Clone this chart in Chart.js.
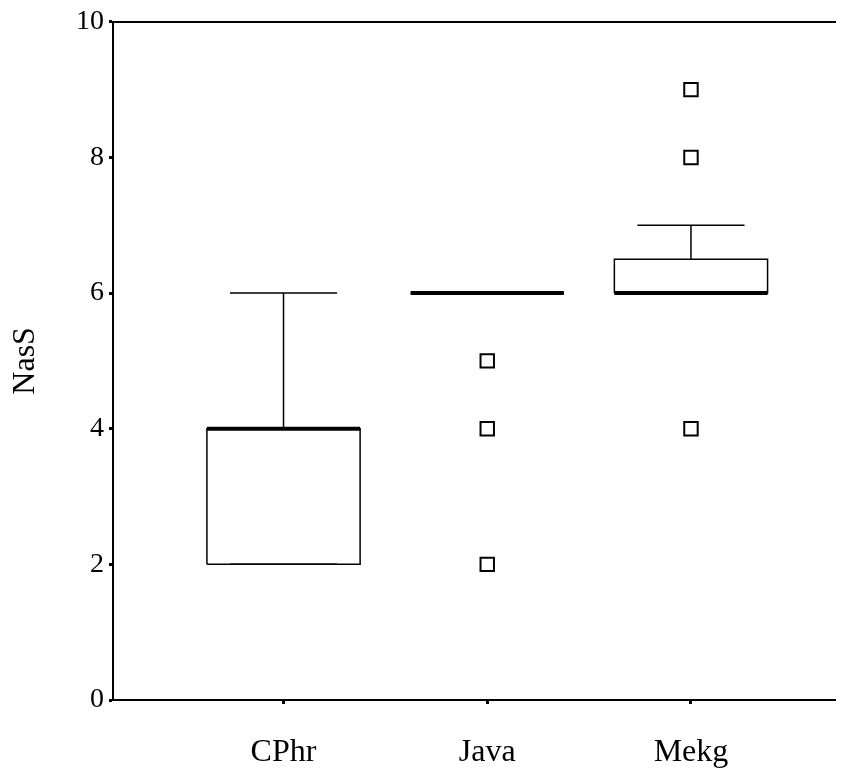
<!DOCTYPE html>
<html>
<head>
<meta charset="utf-8">
<script src="https://cdn.jsdelivr.net/npm/chart.js@4/dist/chart.umd.min.js"></script>
<style>
  body { margin: 0; background: #fff; }
  #wrap { width: 852px; height: 771px; }
</style>
</head>
<body>
<div id="wrap"><canvas id="grafikBox"></canvas></div>
<script>
// data boxplot NasS per kelompok
const categories = ['CPhr', 'Java', 'Mekg'];
const q1 = [2, 6, 6];
const median = [4, 6, 6];
const q3 = [4, 6, 6.5];
const whiskerLow = [2, 6, 6];
const whiskerHigh = [6, 6, 7];
const outliers = [[], [5, 4, 2], [9, 8, 4]];
const yTicks = [0, 2, 4, 6, 8, 10];

const boxHalf = 0.376;
const capHalf = 0.263;
const serif = '"Liberation Serif", "Times New Roman", serif';

// susun titik garis (null = putus)
const boxPts = [], medPts = [], whiskPts = [], outPts = [];
categories.forEach((c, i) => {
    const x = i + 1;
    boxPts.push({x: x - boxHalf, y: q1[i]}, {x: x + boxHalf, y: q1[i]},
                {x: x + boxHalf, y: q3[i]}, {x: x - boxHalf, y: q3[i]},
                {x: x - boxHalf, y: q1[i]}, {x: x, y: null});
    medPts.push({x: x - boxHalf, y: median[i]}, {x: x + boxHalf, y: median[i]}, {x: x, y: null});
    whiskPts.push({x: x, y: q3[i]}, {x: x, y: whiskerHigh[i]}, {x: x, y: null},
                  {x: x - capHalf, y: whiskerHigh[i]}, {x: x + capHalf, y: whiskerHigh[i]}, {x: x, y: null},
                  {x: x, y: q1[i]}, {x: x, y: whiskerLow[i]}, {x: x, y: null},
                  {x: x - capHalf, y: whiskerLow[i]}, {x: x + capHalf, y: whiskerLow[i]}, {x: x, y: null});
    outliers[i].forEach(v => outPts.push({x: x, y: v}));
});

const lineSet = (data, width) => ({
    type: 'line', data: data, showLine: true, spanGaps: false,
    borderColor: '#000', borderWidth: width, pointRadius: 0, fill: false, tension: 0
});

const config = {
    type: 'scatter',
    data: {
        datasets: [
            lineSet(whiskPts, 1.5),
            lineSet(boxPts, 1.5),
            lineSet(medPts, 4),
            {
                data: outPts,
                pointStyle: 'rect',
                pointRadius: 9.5,
                pointBackgroundColor: '#fff',
                pointBorderColor: '#000',
                pointBorderWidth: 2
            }
        ]
    },
    options: {
        responsive: true,
        maintainAspectRatio: false,
        animation: false,
        layout: { padding: { top: 18, right: 17, left: 0, bottom: 0 } },
        plugins: { legend: { display: false }, tooltip: { enabled: false } },
        scales: {
            x: {
                type: 'linear',
                min: 0.163,
                max: 3.707,
                afterFit: s => { s.height = 71; },
                afterBuildTicks: s => { s.ticks = categories.map((c, i) => ({value: i + 1})); },
                ticks: {
                    callback: v => categories[v - 1],
                    color: '#000',
                    font: { family: serif, size: 32 },
                    padding: 29,
                    maxRotation: 0
                },
                grid: { drawOnChartArea: false, drawTicks: true, tickLength: 4, tickWidth: 3, tickColor: '#000' },
                border: { display: true, color: '#000', width: 2 }
            },
            xTop: {
                type: 'linear',
                position: 'top',
                min: 0.163,
                max: 3.707,
                afterFit: s => { s.height = 0; },
                ticks: { display: false },
                grid: { display: false },
                border: { display: true, color: '#000', width: 2 }
            },
            y: {
                min: 0,
                max: 10,
                afterFit: s => { s.width = 113; },
                afterBuildTicks: s => { s.ticks = yTicks.map(v => ({value: v})); },
                ticks: {
                    color: '#000',
                    font: { family: serif, size: 28 },
                    padding: 5
                },
                title: {
                    display: true,
                    text: 'NasS',
                    color: '#000',
                    font: { family: serif, size: 32 },
                    padding: { top: 6, bottom: 0 }
                },
                grid: { drawOnChartArea: false, drawTicks: true, tickLength: 4, tickWidth: 3, tickColor: '#000' },
                border: { display: true, color: '#000', width: 2 }
            }
        }
    }
};

var grafikBox = new Chart(document.getElementById('grafikBox'), config);
</script>
</body>
</html>
